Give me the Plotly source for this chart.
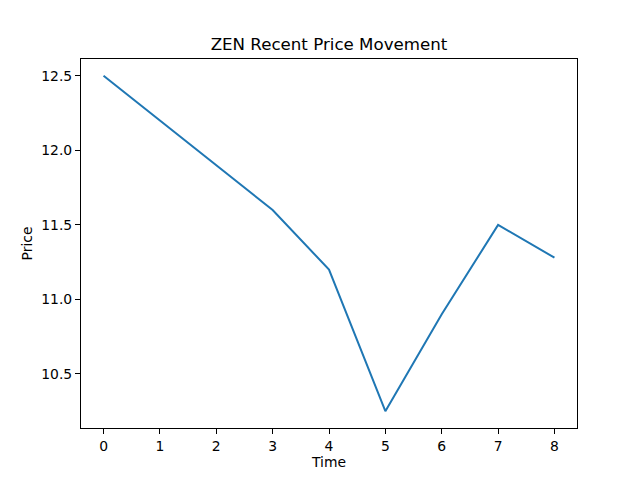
import plotly.graph_objects as go

time = [0, 1, 2, 3, 4, 5, 6, 7, 8]
price = [12.5, 12.2, 11.9, 11.6, 11.2, 10.25, 10.9, 11.5, 11.28]
title = "ZEN Recent Price Movement"

fig = go.Figure()
fig.add_trace(go.Scatter(x=time, y=price, mode="lines",
                         line=dict(color="#1f77b4", width=2)))

axis_common = dict(showgrid=False, zeroline=False, showline=True, linecolor="black",
                   linewidth=1, mirror=True, ticks="outside", ticklen=5, tickwidth=1,
                   tickcolor="black", tickfont=dict(size=13.9, color="black"))

fig.update_layout(
    width=640, height=480,
    paper_bgcolor="white", plot_bgcolor="white",
    margin=dict(l=73, r=71, t=51, b=60),
    font=dict(family="DejaVu Sans", color="black"),
    title=dict(text=title, x=(73 + (640 - 73 - 71) / 2) / 640, xanchor="center",
               y=1 - 36/480, yanchor="middle",
               font=dict(size=16.67, color="black")),
    showlegend=False,
    xaxis=dict(range=[-0.4, 8.4], tickmode="array", tickvals=time,
               title=dict(text="Time", font=dict(size=13.9), standoff=4), **axis_common),
    yaxis=dict(range=[10.1375, 12.6125], tickmode="array",
               tickvals=[10.5, 11.0, 11.5, 12.0, 12.5],
               ticktext=["10.5", "11.0", "11.5", "12.0", "12.5"],
               title=dict(text="Price", font=dict(size=13.9), standoff=5), **axis_common),
)

fig.write_html("out.html")
